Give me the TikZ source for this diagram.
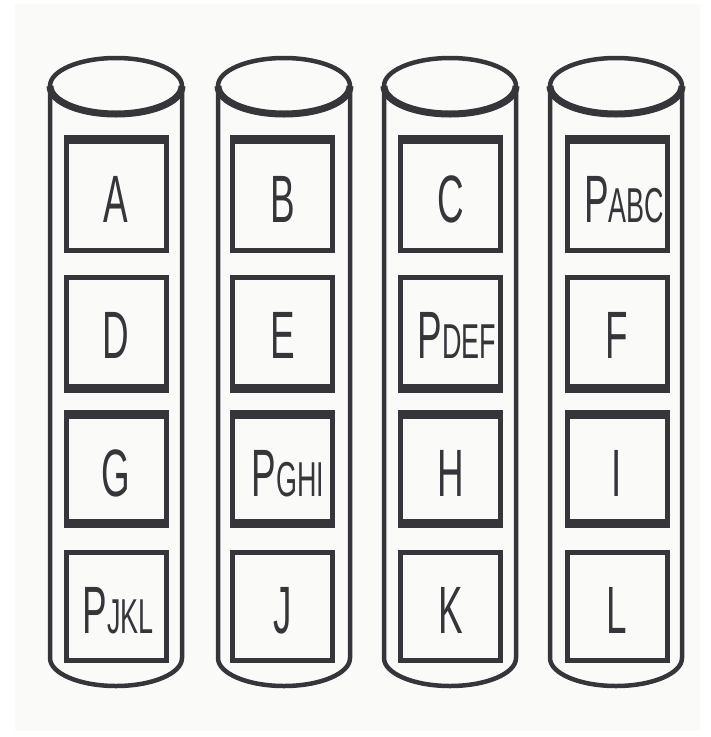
\documentclass[tikz,border=0pt]{standalone}
\usepackage{fontspec}
\setmainfont{Liberation Sans}
\usepackage{graphicx}
\definecolor{ink}{RGB}{53,53,58}
\definecolor{bgc}{RGB}{250,250,248}
\newcommand\biglbl[1]{\scalebox{0.55}[1]{\fontsize{67}{67}\selectfont #1}}
\newcommand\plbl[1]{\scalebox{0.55}[1]{\fontsize{67}{67}\selectfont P\fontsize{49}{49}\selectfont #1}}
\begin{document}
\begin{tikzpicture}[x=1pt,y=-1pt,
  cyl/.style={draw=ink,line width=4.5pt},
  cell/.style={draw=ink,line width=5pt,rectangle,minimum width=100pt,inner sep=0pt},
  lbl/.style={text=ink,inner sep=0pt,anchor=base}]
\useasboundingbox (0,0) rectangle (711,737);
\fill[white] (0,0) rectangle (711,737);
\fill[bgc] (15,4) rectangle (700,731);
% cylinders
\foreach \cx in {116,284,450,616}{
  \draw[cyl] ({\cx-66},86) -- ({\cx-66},658)
     arc[start angle=180,end angle=360,x radius=66pt,y radius=28pt] -- ({\cx+66},86);
  \draw[cyl] (\cx,86) ellipse[x radius=66pt,y radius=28pt];
  \draw[cyl,line width=7pt] ({\cx-66},86) arc[start angle=180,end angle=360,x radius=66pt,y radius=28pt];
}
% cells
\foreach \bx/\c in {116/1,282/2,450/3,617/4}{
  \node[cell,minimum height=113pt] (b1\c) at (\bx,194) {};
  \node[cell,minimum height=113pt] (b2\c) at (\bx,334) {};
  \node[cell,minimum height=113pt] (b3\c) at (\bx,469) {};
  \node[cell,minimum height=108pt] (b4\c) at (\bx,606.5) {};
  \fill[ink] ({\bx-52.5},135) rectangle ({\bx+52.5},144);
  \fill[ink] ({\bx-52.5},384) rectangle ({\bx+52.5},393);
  \fill[ink] ({\bx-52.5},410) rectangle ({\bx+52.5},419);
  \fill[ink] ({\bx-52.5},519) rectangle ({\bx+52.5},528);
}
% labels
\node[lbl] (tA) at (116,222) {\biglbl{A}};
\node[lbl] (tB) at (283,222) {\biglbl{B}};
\node[lbl] (tC) at (451,222) {\biglbl{C}};
\node[lbl] (tPABC) at (624,222) {\plbl{ABC}};
\node[lbl] (tD) at (116,358) {\biglbl{D}};
\node[lbl] (tE) at (283,358) {\biglbl{E}};
\node[lbl] (tPDEF) at (457,358) {\plbl{DEF}};
\node[lbl] (tF) at (617,358) {\biglbl{F}};
\node[lbl] (tG) at (116,496) {\biglbl{G}};
\node[lbl] (tPGHI) at (288,496) {\plbl{GHI}};
\node[lbl] (tH) at (451,496) {\biglbl{H}};
\node[lbl] (tI) at (617,496) {\biglbl{I}};
\node[lbl] (tPJKL) at (118,633) {\plbl{JKL}};
\node[lbl] (tJ) at (283,633) {\biglbl{J}};
\node[lbl] (tK) at (451,633) {\biglbl{K}};
\node[lbl] (tL) at (617,633) {\biglbl{L}};
\end{tikzpicture}
\end{document}
